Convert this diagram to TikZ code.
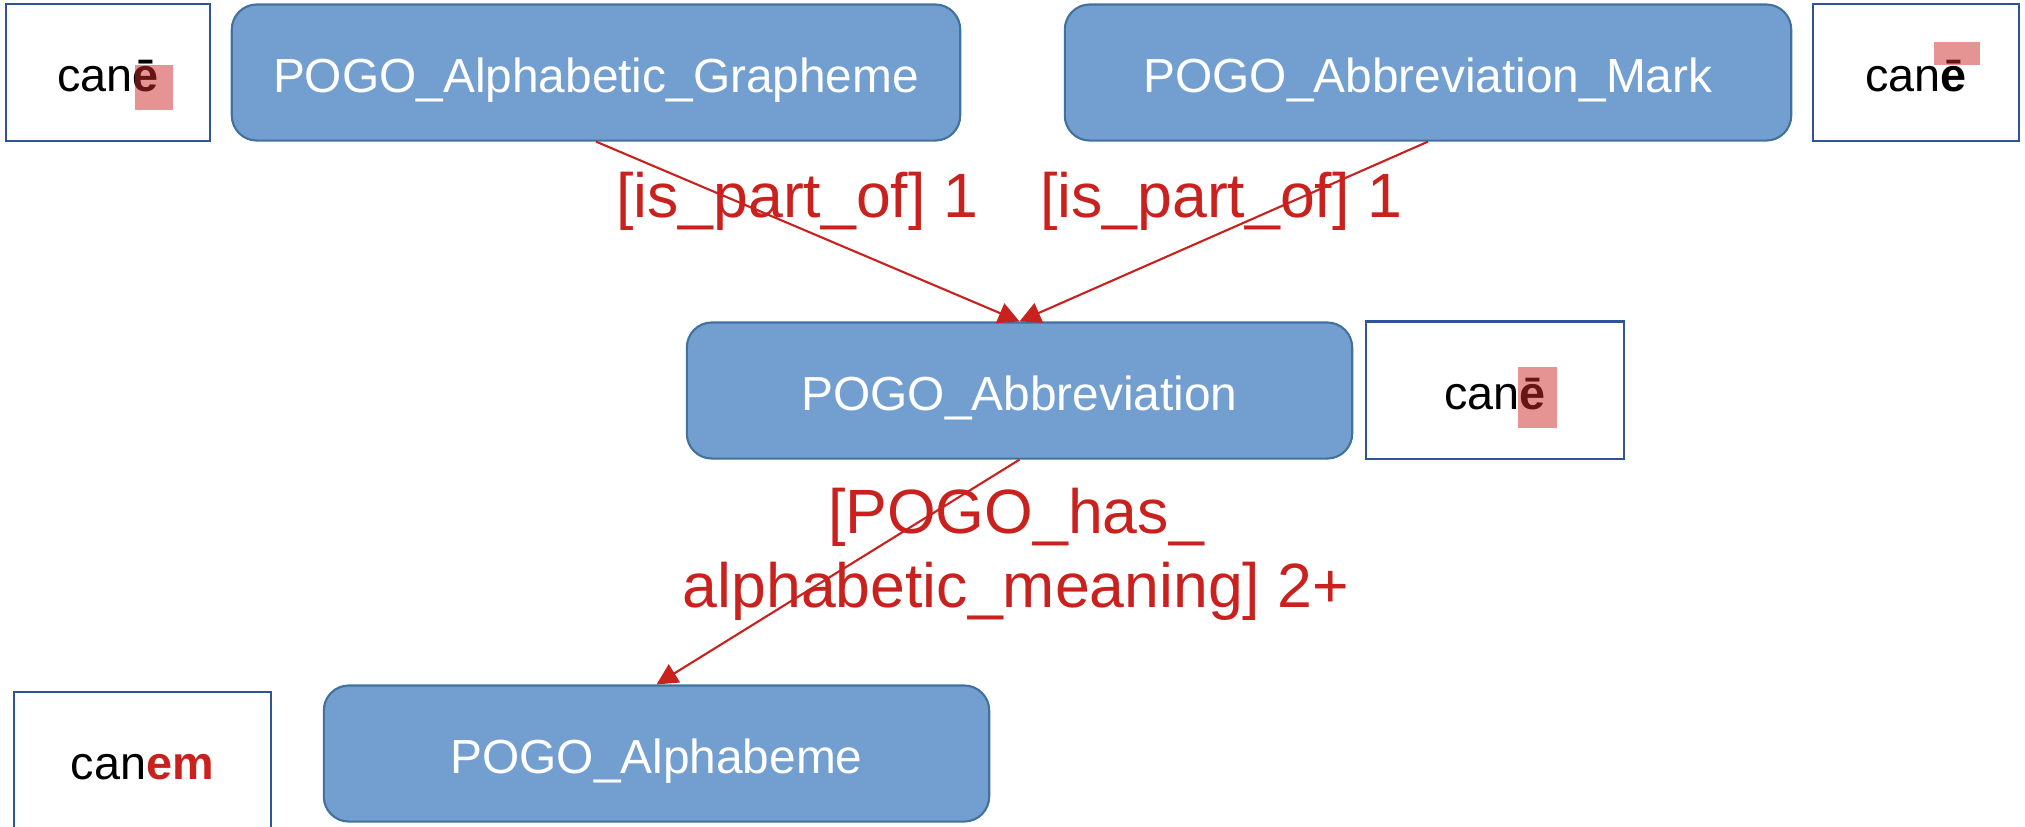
\documentclass[tikz,border=0pt]{standalone}
\usepackage{fontspec}
\setmainfont{Liberation Sans}
\usepackage{xcolor}
\usepackage{tikz}
\usetikzlibrary{shapes,arrows,positioning,calc,arrows.meta}
\definecolor{pogofill}{RGB}{114,159,207}
\definecolor{pogoline}{RGB}{65,113,156}
\definecolor{boxline}{RGB}{47,85,151}
\definecolor{relred}{RGB}{201,33,30}
\definecolor{markred}{RGB}{204,40,40}

\begin{document}
\begin{tikzpicture}[x=0.01cm, y=-0.01cm,
    pogo/.style={draw=pogoline, line width=0.6pt, fill=pogofill, rounded corners=0.25cm,
        text=white, font=\fontsize{13.6}{16}\selectfont, minimum height=1.36cm,
        inner sep=0pt, text height=13.6pt, text depth=2.4pt},
    sample/.style={draw=boxline, line width=0.6pt, fill=white,
        font=\fontsize{13.3}{16}\selectfont, minimum height=1.37cm,
        inner sep=0pt, text height=13.3pt, text depth=2.4pt},
    rel/.style={-{Triangle[length=6pt,width=6pt]}, relred, line width=0.6pt},
    rellabel/.style={text=relred, font=\fontsize{17.8}{21}\selectfont, align=center}]
    \useasboundingbox (0,0) rectangle (2025,826);
    % top row
    \node[sample, minimum width=2.04cm] (caneA) at (108,72.5) {can\textbf{ē}};
    \node[pogo, minimum width=7.28cm] (grapheme) at (596,72.5) {POGO\_Alphabetic\_Grapheme};
    \node[pogo, minimum width=7.26cm] (mark) at (1428,72.5) {POGO\_Abbreviation\_Mark};
    \node[sample, minimum width=2.06cm] (caneB) at (1916,72.5) {can\textbf{ē}};
    % middle row
    \node[pogo, minimum width=6.65cm] (abbr) at (1019.5,390.5) {POGO\_Abbreviation};
    \node[sample, minimum width=2.58cm] (caneC) at (1495,390) {can\textbf{ē}};
    % bottom row
    \node[sample, minimum width=2.57cm] (canem) at (142.5,760.5) {can\textbf{\textcolor{relred}{em}}};
    \node[pogo, minimum width=6.65cm] (alphabeme) at (656.5,753.5) {POGO\_Alphabeme};
    % highlights
    \fill[markred, opacity=0.5] (135,65) rectangle (173,110);
    \fill[markred, opacity=0.5] (1934,42) rectangle (1980,65);
    \fill[markred, opacity=0.5] (1518,367) rectangle (1557,428);
    % relations
    \node[rellabel, anchor=base] (partA) at (797,217) {[is\_part\_of] 1};
    \node[rellabel, anchor=base] (partB) at (1221,217) {[is\_part\_of] 1};
    \node[rellabel] (meaning) at (1016,554) {[POGO\_has\_\\alphabetic\_meaning] 2+};
    \draw[rel] (grapheme.south) -- (abbr.north);
    \draw[rel] (mark.south) -- (abbr.north);
    \draw[rel] (abbr.south) -- (alphabeme.north);
\end{tikzpicture}
\end{document}
